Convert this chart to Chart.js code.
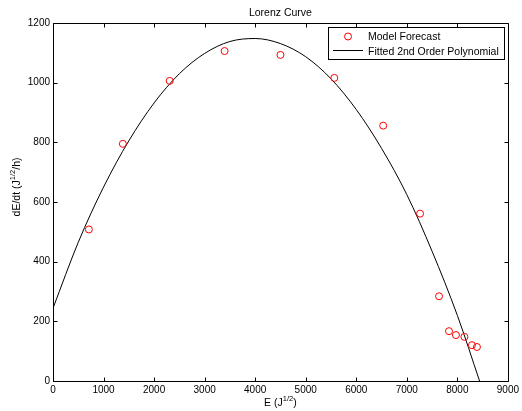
<!DOCTYPE html>
<html>
<head>
<meta charset="utf-8">
<script src="https://cdn.jsdelivr.net/npm/chart.js@4.4.0/dist/chart.umd.min.js"></script>
<style>
  html, body { margin: 0; padding: 0; background: #fff; }
  #wrap { width: 522px; height: 411px; }
</style>
</head>
<body>
<div id="wrap"><canvas id="chart"></canvas></div>
<script>
// Model forecast (red circles)
const forecastE = [710, 1382, 2309, 3395, 4500, 5566, 6533, 7263, 7638, 7835, 7973, 8140, 8289, 8388];
const forecastRate = [508, 795, 1006, 1106, 1093, 1016, 856, 561, 284, 167, 154, 148, 120, 114];

// fitted 2nd order polynomial
const fitE = [0, 500, 1000, 1500, 2000, 2500, 3000, 3500, 4000, 4500, 5000, 5500, 6000, 6500, 7000, 7500, 8000, 8440];
const fitRate = [244, 465, 650, 805, 932, 1030, 1098, 1138, 1148, 1131, 1087, 1013, 910, 780, 625, 435, 220, 0];

const xTicks = [0, 1000, 2000, 3000, 4000, 5000, 6000, 7000, 8000, 9000];
const yTicks = [0, 200, 400, 600, 800, 1000, 1200];

const FONT = '"Liberation Sans", Arial, Helvetica, sans-serif';

// draw "text" with a superscript part, centered at (cx, cy)
function drawSupText(ctx, parts, cx, cy, size) {
  const supSize = size * 0.72;
  let total = 0;
  parts.forEach(p => {
    ctx.font = (p.sup ? supSize : size) + 'px ' + FONT;
    p.w = ctx.measureText(p.t).width;
    total += p.w;
  });
  let x = cx - total / 2;
  ctx.textAlign = 'left';
  ctx.textBaseline = 'middle';
  parts.forEach(p => {
    ctx.font = (p.sup ? supSize : size) + 'px ' + FONT;
    ctx.fillText(p.t, x, p.sup ? cy - 4 : cy);
    x += p.w;
  });
}

// matlab style box, inward ticks, labels and legend
const matlabFrame = {
  id: 'matlabFrame',
  afterDraw(chart) {
    const { ctx, chartArea: a, scales } = chart;
    const L = Math.round(a.left) + 0.5, R = Math.round(a.right) + 0.5;
    const T = Math.round(a.top) + 0.5, B = Math.round(a.bottom) + 0.5;
    const tl = 4;
    ctx.save();
    ctx.strokeStyle = '#000';
    ctx.lineWidth = 1;
    ctx.beginPath();
    ctx.rect(L, T, R - L, B - T);
    xTicks.forEach(v => {
      const px = Math.round(scales.x.getPixelForValue(v)) + 0.5;
      ctx.moveTo(px, B); ctx.lineTo(px, B - tl);
      ctx.moveTo(px, T); ctx.lineTo(px, T + tl);
    });
    yTicks.forEach(v => {
      const py = Math.round(scales.y.getPixelForValue(v)) + 0.5;
      ctx.moveTo(L, py); ctx.lineTo(L + tl, py);
      ctx.moveTo(R, py); ctx.lineTo(R - tl, py);
    });
    ctx.stroke();

    // title + axis labels
    ctx.fillStyle = '#000';
    ctx.font = '10.5px ' + FONT;
    ctx.textAlign = 'center';
    ctx.textBaseline = 'middle';
    ctx.fillText('Lorenz Curve', (a.left + a.right) / 2, 13);

    drawSupText(ctx, [{ t: 'E (J' }, { t: '1/2', sup: true }, { t: ')' }], (a.left + a.right) / 2, 403, 10.5);

    ctx.save();
    ctx.translate(17, 187);
    ctx.rotate(-Math.PI / 2);
    drawSupText(ctx, [{ t: 'dE/dt (J' }, { t: '1/2', sup: true }, { t: '/h)' }], 0, 0, 10.5);
    ctx.restore();

    // legend
    const lx = 328.5, ly = 27.5, lw = 176, lh = 32;
    ctx.fillStyle = '#fff';
    ctx.fillRect(lx, ly, lw, lh);
    ctx.strokeStyle = '#000';
    ctx.strokeRect(lx, ly, lw, lh);
    const ds = chart.data.datasets;
    ctx.beginPath();
    ctx.strokeStyle = ds[0].borderColor;
    ctx.arc(348, 36.5, 3.5, 0, Math.PI * 2);
    ctx.stroke();
    ctx.beginPath();
    ctx.strokeStyle = ds[1].borderColor;
    ctx.moveTo(333, 50.5); ctx.lineTo(363, 50.5);
    ctx.stroke();
    ctx.fillStyle = '#000';
    ctx.font = '10.5px ' + FONT;
    ctx.textAlign = 'left';
    ctx.textBaseline = 'middle';
    ctx.fillText(ds[0].label, 368, 37.5);
    ctx.fillText(ds[1].label, 368, 52);
    ctx.restore();
  }
};

const ctx = document.getElementById('chart').getContext('2d');
new Chart(ctx, {
  type: 'scatter',
  data: {
    datasets: [
      {
        label: 'Model Forecast',
        data: forecastE.map((e, i) => ({ x: e, y: forecastRate[i] })),
        showLine: false,
        pointStyle: 'circle',
        pointRadius: 3.5,
        borderColor: '#ff0000',
        backgroundColor: 'rgba(0,0,0,0)',
        borderWidth: 1
      },
      {
        label: 'Fitted 2nd Order Polynomial',
        data: fitE.map((e, i) => ({ x: e, y: fitRate[i] })),
        showLine: true,
        pointRadius: 0,
        borderColor: '#000000',
        borderWidth: 1,
        cubicInterpolationMode: 'monotone'
      }
    ]
  },
  options: {
    responsive: true,
    maintainAspectRatio: false,
    animation: false,
    layout: { padding: { top: 23, right: 14, left: 0, bottom: 0 } },
    plugins: {
      legend: { display: false },
      title: { display: false },
      tooltip: { enabled: false }
    },
    scales: {
      x: {
        type: 'linear',
        min: 0,
        max: 9000,
        grid: { display: false, drawTicks: false },
        border: { display: false },
        afterBuildTicks: (s) => { s.ticks = xTicks.map(v => ({ value: v })); },
        afterFit: (s) => { s.height = 30; },
        ticks: {
          padding: 3,
          maxRotation: 0,
          color: '#000',
          font: { family: FONT, size: 10 },
          callback: (v) => String(v)
        }
      },
      y: {
        type: 'linear',
        min: 0,
        max: 1200,
        grid: { display: false, drawTicks: false },
        border: { display: false },
        afterBuildTicks: (s) => { s.ticks = yTicks.map(v => ({ value: v })); },
        afterFit: (s) => { s.width = 53; },
        ticks: {
          padding: 3,
          color: '#000',
          font: { family: FONT, size: 10 },
          callback: (v) => String(v)
        }
      }
    }
  },
  plugins: [matlabFrame]
});
</script>
</body>
</html>
